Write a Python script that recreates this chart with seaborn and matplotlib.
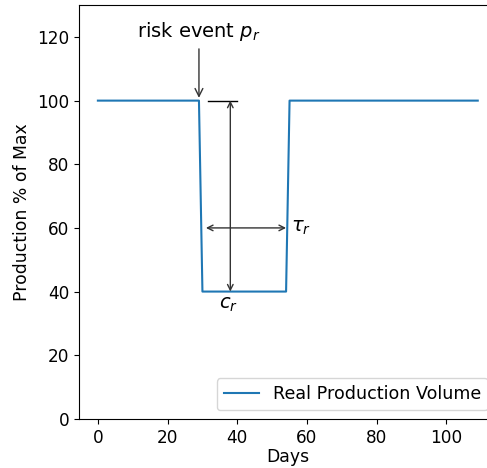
import numpy as np
import pandas as pd
import matplotlib
matplotlib.use("Agg")
import matplotlib.pyplot as plt
import seaborn as sns

days = list(range(0, 110))
normal_level = 100
disrupted_level = 40
drop_day = 30
recover_day = 55

volume = [disrupted_level if drop_day <= d < recover_day else normal_level for d in days]
df = pd.DataFrame({"Days": days, "Production": volume})

# plain matplotlib look, as in the reference
plt.rcParams["font.family"] = ["DejaVu Sans"]

fig = plt.figure(figsize=(4.87, 4.68), dpi=100)
ax = fig.add_axes([0.162, 0.105, 0.858, 0.884])

sns.lineplot(data=df, x="Days", y="Production", color="tab:blue",
             label="Real Production Volume", ax=ax)

ax.set_xlim(-5.45, 114.45)
ax.set_ylim(0, 130)
ax.set_xticks([0, 20, 40, 60, 80, 100])
ax.set_yticks([0, 20, 40, 60, 80, 100, 120])
ax.tick_params(labelsize=12.2)
ax.set_xlabel("Days", fontsize=12.4, labelpad=1)
ax.set_ylabel("Production % of Max", fontsize=12.4)

# risk event arrow
ax.annotate(r"risk event $p_r$", xy=(29, 100), xytext=(29, 118),
            ha="center", va="bottom", fontsize=14,
            arrowprops=dict(arrowstyle="->", color="#333333", lw=1))
# short reference line at normal level
ax.plot([31.5, 40], [100, 100], color="black", lw=1)
# severity arrow
ax.annotate("", xy=(38, 40), xytext=(38, 100),
            arrowprops=dict(arrowstyle="<->", color="#333333", lw=1,
                            shrinkA=0, shrinkB=0))
ax.text(37.5, 38.8, r"$c_r$", ha="center", va="top", fontsize=14)
# duration arrow
ax.annotate("", xy=(31, 60), xytext=(54, 60),
            arrowprops=dict(arrowstyle="<->", color="#333333", lw=1,
                            shrinkA=0, shrinkB=0))
ax.text(55.5, 60, r"$\tau_r$", ha="left", va="center", fontsize=14)

ax.legend(loc="lower right", fontsize=12.6)

fig.savefig("out.png", dpi=100)
